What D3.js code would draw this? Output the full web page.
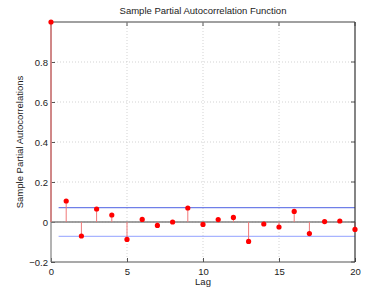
<!DOCTYPE html>
<html><head><meta charset="utf-8">
<script src="https://cdn.jsdelivr.net/npm/d3@7"></script>
<style>body{margin:0;background:#fff}svg{display:block}text{font-family:"Liberation Sans",Arial,sans-serif}</style>
</head><body><svg id="c" width="392" height="295"></svg>
<script>
const lags = [0,1,2,3,4,5,6,7,8,9,10,11,12,13,14,15,16,17,18,19,20];
const pacf = [1,0.105,-0.07,0.065,0.035,-0.087,0.013,-0.017,0.0,0.07,-0.012,0.012,0.023,-0.097,-0.01,-0.025,0.053,-0.058,0.002,0.005,-0.037];
const bound = 0.072;
const xTicks = [0,5,10,15,20];
const yTicks = [-0.2,0,0.2,0.4,0.6,0.8];

const svg = d3.select("#c");
const L=51, R=355, T=22, B=262;
const x = d3.scaleLinear().domain([0,20]).range([L,R]);
const y = d3.scaleLinear().domain([-0.2,1]).range([B,T]);

// grid
svg.append("g").selectAll("line").data(xTicks.filter(d=>d>0&&d<20)).join("line")
  .attr("x1",d=>x(d)).attr("x2",d=>x(d)).attr("y1",T).attr("y2",B)
  .attr("stroke","#c8c8c8").attr("stroke-width",0.8).attr("stroke-dasharray","1,2");
svg.append("g").selectAll("line").data(yTicks.filter(d=>d!==-0.2)).join("line")
  .attr("x1",L).attr("x2",R).attr("y1",d=>y(d)).attr("y2",d=>y(d))
  .attr("stroke","#c8c8c8").attr("stroke-width",0.8).attr("stroke-dasharray","1,2");

// axes
const xa = svg.append("g").attr("transform",`translate(0,${B})`)
  .call(d3.axisBottom(x).tickValues(xTicks).tickSize(-4).tickPadding(6));
const ya = svg.append("g").attr("transform",`translate(${L},0)`)
  .call(d3.axisLeft(y).tickValues(yTicks).tickSize(-4).tickPadding(3).tickFormat(d=>d===0?"0":d3.format(".1f")(d).replace("-","\u2212")));
[xa,ya].forEach(a=>{a.select(".domain").remove();a.selectAll("line").attr("stroke","#555");a.selectAll("text").attr("font-size",9.5).attr("fill","#222");});
// top/right ticks
svg.append("g").selectAll("line").data(xTicks).join("line")
  .attr("x1",d=>x(d)).attr("x2",d=>x(d)).attr("y1",T).attr("y2",T+4).attr("stroke","#555");
svg.append("g").selectAll("line").data(yTicks).join("line")
  .attr("x1",R).attr("x2",R-4).attr("y1",d=>y(d)).attr("y2",d=>y(d)).attr("stroke","#555");

// zero line
svg.append("line").attr("x1",L).attr("x2",R).attr("y1",y(0)).attr("y2",y(0)).attr("stroke","#808080").attr("stroke-width",1.3);

// bounds
svg.append("line").attr("x1",x(0.5)).attr("x2",R).attr("y1",y(bound)).attr("y2",y(bound)).attr("stroke","#6f7fe8").attr("stroke-width",1.2);
svg.append("line").attr("x1",x(0.5)).attr("x2",R).attr("y1",y(-bound)).attr("y2",y(-bound)).attr("stroke","#a8b4ff").attr("stroke-width",1.4);

// stems
svg.append("g").selectAll("line").data(lags).join("line")
  .attr("x1",d=>x(d)).attr("x2",d=>x(d)).attr("y1",y(0)).attr("y2",(d,i)=>y(pacf[i]))
  .attr("stroke","#f07878").attr("stroke-width",1);

// box
svg.append("line").attr("x1",L).attr("x2",R).attr("y1",T).attr("y2",T).attr("stroke","#808080").attr("stroke-width",1.5);
svg.append("line").attr("x1",L).attr("x2",R).attr("y1",B).attr("y2",B).attr("stroke","#555").attr("stroke-width",1.2);
svg.append("line").attr("x1",L).attr("x2",L).attr("y1",T).attr("y2",B).attr("stroke","#808080").attr("stroke-width",1.2);
svg.append("line").attr("x1",R).attr("x2",R).attr("y1",T).attr("y2",B).attr("stroke","#333").attr("stroke-width",1.2);
// lag0 stem over left axis
svg.append("line").attr("x1",x(0)).attr("x2",x(0)).attr("y1",y(0)).attr("y2",y(pacf[0])).attr("stroke","#f07878").attr("stroke-width",1);

// markers
svg.append("g").selectAll("circle").data(lags).join("circle")
  .attr("cx",d=>x(d)).attr("cy",(d,i)=>y(pacf[i])).attr("r",2.6).attr("fill","#ff0000");

// labels
svg.append("text").attr("x",(L+R)/2).attr("y",14).attr("text-anchor","middle").attr("font-size",9.5).attr("fill","#222").text("Sample Partial Autocorrelation Function");
svg.append("text").attr("x",(L+R)/2).attr("y",285).attr("text-anchor","middle").attr("font-size",9.5).attr("fill","#222").text("Lag");
svg.append("text").attr("transform",`translate(23,${(T+B)/2}) rotate(-90)`).attr("text-anchor","middle").attr("font-size",9.5).attr("fill","#222").text("Sample Partial Autocorrelations");
</script></body></html>
